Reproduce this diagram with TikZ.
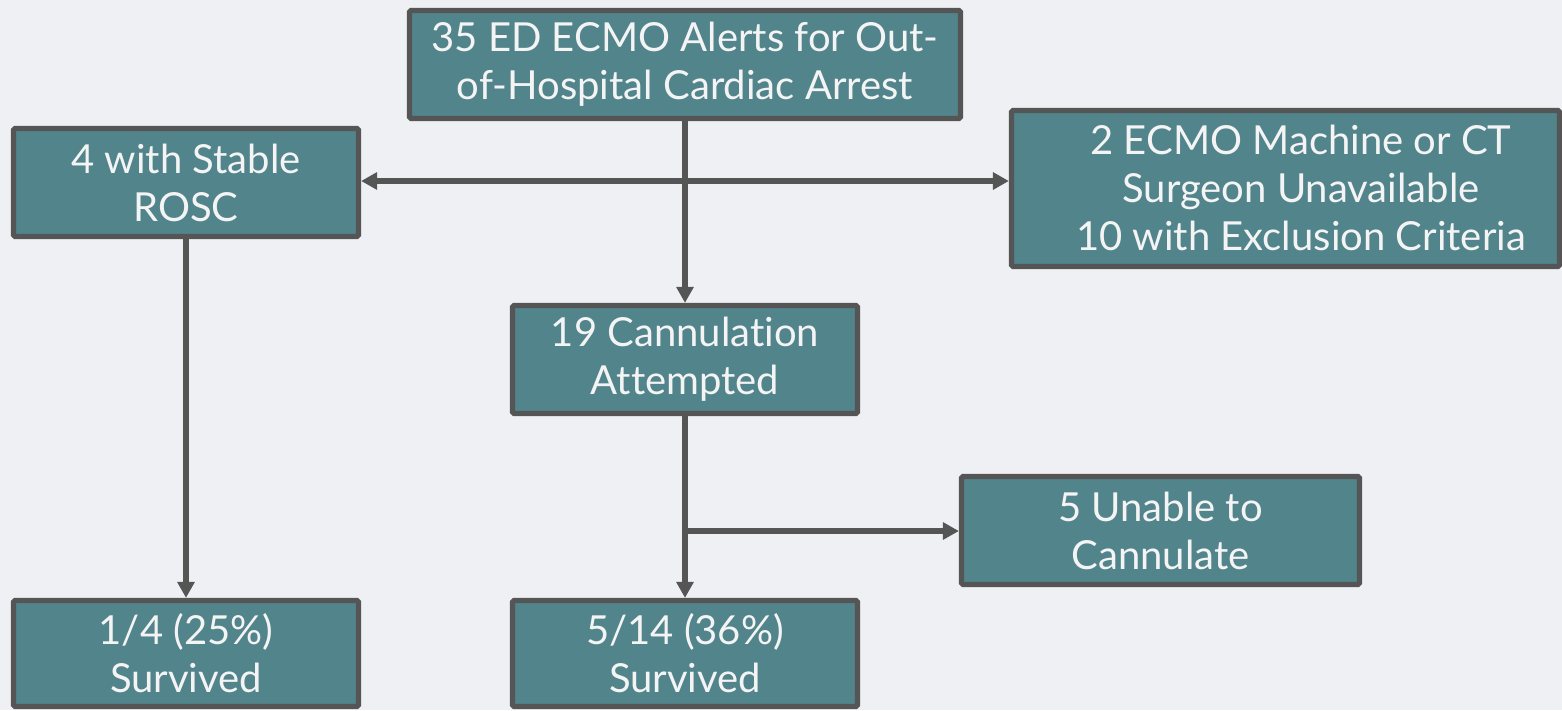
\documentclass[tikz,border=0pt]{standalone}
\usepackage{fontspec}
\setmainfont{Lato}[Ligatures={NoCommon,NoContextual}]
\usetikzlibrary{arrows.meta}
\definecolor{bg}{HTML}{EEF0F3}
\definecolor{boxfill}{HTML}{51848B}
\definecolor{edge}{HTML}{555555}
\definecolor{txt}{HTML}{F4F4F4}
\tikzset{
  box/.style={draw=edge, line width=3.9pt, fill=boxfill, rounded corners=1.2pt,
    text=txt, align=center, inner sep=0pt,
    font=\fontsize{30}{36}\selectfont},
  plain/.style={text=txt, align=center, inner sep=0pt,
    font=\fontsize{30}{36}\selectfont},
  conn/.style={draw=edge, line width=4.2pt,
    -{Triangle[length=12pt,width=12.5pt]}},
  conn2/.style={draw=edge, line width=4.2pt,
    {Triangle[length=12pt,width=12.5pt]}-{Triangle[length=12pt,width=12.5pt]}},
  line/.style={draw=edge, line width=4.2pt}
}
\begin{document}
\begin{tikzpicture}[x=0.75pt,y=-0.75pt]
\useasboundingbox (0,0) rectangle (1562,710);
\clip (0,0) rectangle (1562,710);
\fill[bg] (0,0) rectangle (1562,710);

\node[box, minimum width=551*0.75pt, minimum height=108*0.75pt] (top) at (685,64.5)
  {35 ED ECMO Alerts for Out-\\of-Hospital Cardiac Arrest};
\node[box, minimum width=345*0.75pt, minimum height=108*0.75pt] (rosc) at (186,182.5)
  {4 with Stable\\ROSC};
\node[box, minimum width=548*0.75pt, minimum height=156*0.75pt] (rbox) at (1285.5,188.5) {};
\node[plain] (rtext) at (1301,188)
  {2 ECMO Machine or CT\\Surgeon Unavailable\\10 with Exclusion Criteria};
\node[box, minimum width=345*0.75pt, minimum height=108*0.75pt] (mid) at (685,359.5)
  {19 Cannulation\\Attempted};
\node[box, minimum width=398*0.75pt, minimum height=108*0.75pt] (unable) at (1160.5,530.5)
  {5 Unable to\\Cannulate};
\node[box, minimum width=345*0.75pt, minimum height=106*0.75pt] (bl) at (186,653.5)
  {1/4 (25\%)\\Survived};
\node[box, minimum width=345*0.75pt, minimum height=106*0.75pt] (bm) at (685,653.5)
  {5/14 (36\%)\\Survived};

\coordinate (hl) at (685,181);
\coordinate (br) at (685,531);

\draw[conn2] (hl -| rosc.east) -- (hl -| rbox.west);
\draw[conn] (top.south) -- (mid.north);
\draw[conn] (rosc.south) -- (bl.north);
\draw[conn] (mid.south) -- (bm.north);
\draw[conn] (br) -- (br -| unable.west);
\end{tikzpicture}
\end{document}
